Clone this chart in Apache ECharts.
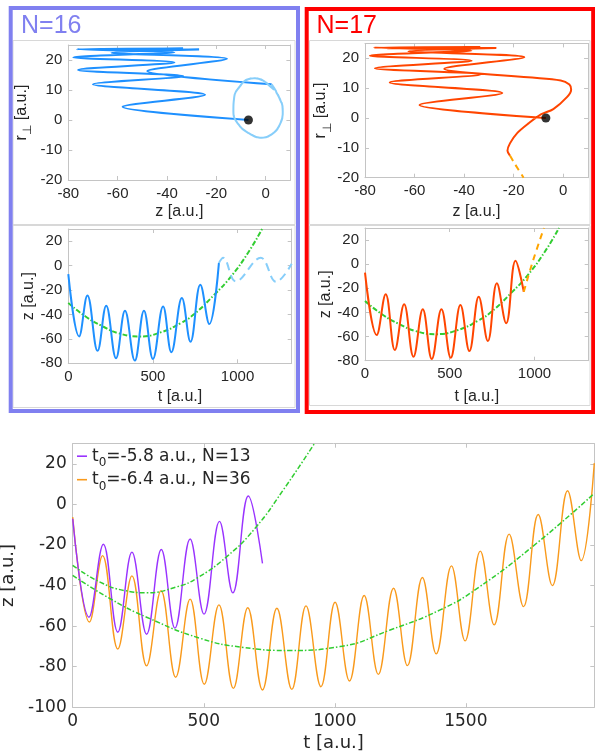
<!DOCTYPE html>
<html><head><meta charset="utf-8">
<script src="https://cdn.jsdelivr.net/npm/echarts@6/dist/echarts.min.js"></script>
<style>html,body{margin:0;padding:0;background:#fff}#c{width:595px;height:752px}</style>
</head><body><div id="c"></div>
<script>
// ---------------- DATA ----------------
// N=16 panel: trajectory r_perp vs z (solid) and loop (dashed)
const n16TrajZ = [-7, -58, -24.6, -70, -33.4, -76, -37, -78, -37, -76.5, -33.5, -71, -27, -62.5, -15.7, -48, 2.4];
const n16TrajR = [0, 4.4, 8.4, 11.9, 14.6, 16.7, 19.2, 20.9, 22.6, 23.6, 23.8, 23.4, 23.5, 22.4, 20.4, 16.3, 11.9];
const n16LoopZ = [2.4, 5.5, 6.9, 5.8, 2.4, -1.6, -6.4, -11.1, -13.1, -12.8, -10.4, -7.1, -4.3, 1.7, 5.5, 6.9, 5.8, 2.4, -1.6, -6.4, -11.1, -13.1, -12.8, -10.4, -7.1, -4.3, 1.7];
const n16LoopR = [11.9, 7.4, 3, -1.4, -4.8, -5.9, -4.6, -1.4, 3, 7.4, 11.3, 13.6, 13.9, 11.3, 7.4, 3, -1.4, -4.8, -5.9, -4.6, -1.4, 3, 7.4, 11.3, 13.6, 13.9, 11.3];
// N=16 panel: z vs t
const n16T = [0, 64, 113, 173, 224, 282, 335, 393, 447, 500, 560, 609, 671, 722, 780, 833, 890];
const n16Z = [-7, -58, -24.4, -69.8, -32.8, -75.8, -37, -77.8, -37, -76.4, -33.4, -70.9, -26.5, -62.4, -15.6, -47.9, 2.2];
const n16DashT = [890, 915, 990, 1137, 1228, 1320];
const n16DashZ = [2.2, 6.4, -12.9, 6.4, -13.2, 1.5];
// guiding-centre curve (top panels)
const topGuideT = [0, 100, 200, 300, 420, 550, 665, 744, 863, 962, 1062, 1145];
const topGuideZ = [-30.5, -41.5, -49.5, -55.5, -58, -54.5, -47, -39.7, -23.8, -8.8, 10.5, 30];
// N=17 panel: trajectory
const n17TrajZ = [-7, -58, -24.6, -70, -33.4, -76, -37, -78, -37, -76.5, -33.5, -71, -27, -62.5, -15.7, -48, -1, 2.5, 3.2, 1.5, -4, -9, -14, -18.5, -21.5, -22.5, -21.5];
const n17TrajR = [0, 4.4, 8.4, 11.9, 14.6, 16.7, 19.2, 20.9, 22.6, 23.6, 23.8, 23.4, 23.5, 22.4, 20.4, 16.5, 12.6, 11.2, 9.5, 7, 3, 1.2, -1.8, -5, -8.5, -11, -12.6];
const n17TailZ = [-21.5, -19.8, -16];
const n17TailR = [-12.6, -15, -20];
// N=17 panel: z vs t
const n17T = [0, 69, 122, 176, 231, 286, 341, 394, 451, 506, 563, 616, 671, 725, 778, 833, 888, 937];
const n17Z = [-7, -58.7, -25, -71.1, -33.3, -76.7, -37.4, -78.6, -37.4, -77.5, -33.9, -72, -27, -63.7, -15.9, -49, 2.9, -22.8];
const n17DashT = [937, 990, 1056];
const n17DashZ = [-22.8, 2.3, 30];
// bottom panel
const legendT0 = ['-5.8', '-6.4'];
const legendN = [13, 36];
const purpleT = [0, 62, 117, 172, 226, 282, 338, 390, 448, 501, 560, 611, 670, 724];
const purpleZ = [-7, -55.6, -19.6, -63, -23.5, -64, -22.2, -61, -17, -54.1, -8.3, -43.6, 4.2, -29];
const orangeT = [0, 64, 114, 172, 226, 282, 337, 393, 448, 502, 558, 613, 668, 724, 779, 836, 890, 947, 1001, 1056, 1112, 1166, 1224, 1277, 1334, 1387, 1445, 1497, 1555, 1608, 1665, 1720, 1776, 1830, 1888, 1940, 1990];
const orangeZ = [-6.2, -58, -25.2, -71.3, -35.2, -79.6, -42.5, -85.2, -46.7, -88.7, -49.5, -90.7, -50.9, -91.5, -51.2, -91.2, -50, -89.9, -48.2, -87.1, -44.9, -83.8, -41.3, -79.5, -36, -73.7, -30.3, -67.3, -23, -59.4, -14.6, -50.4, -4.9, -40, 6.8, -27.7, 20.4];
const guide1T = [0, 100, 200, 282, 400, 473, 588, 696, 804, 925];
const guide1Z = [-30, -38, -42.5, -43.5, -40.5, -36.4, -25.7, -11.7, 7.3, 30.6];
const guide2T = [0, 150, 282, 486, 650, 830, 1020, 1211, 1402, 1542, 1771, 1990];
const guide2Z = [-35, -47, -55.6, -66, -70.5, -72, -70.1, -61.9, -52, -41.5, -19, 5.5];
const startZ = [-7], startR = [0];

// ---------------- CHART ----------------
const zip = (a, b) => a.map((v, i) => [v, b[i]]);
const TF = 'Liberation Sans', BF = 'DejaVu Sans';
const TXT = '#262626', AX = '#c4c4c4';
const BLUE = '#1e90ff', LBLUE = '#87cefa', GREEN = '#32cd32', RED = '#ff4500', ORANGE = '#ffa500', PURPLE = '#9933ff', ORANGE2 = '#f99a1c';
const names = legendT0.map((t, i) => 't0=' + t + ' a.u., N=' + legendN[i]);

const gbase = {containLabel: false, outerBoundsMode: 'none'};
const grids = [
  Object.assign({left: 68.3, top: 45, width: 222.1, height: 135}, gbase),
  Object.assign({left: 68.3, top: 229, width: 223.4, height: 134.3}, gbase),
  Object.assign({left: 365, top: 43.4, width: 223, height: 134.3}, gbase),
  Object.assign({left: 365, top: 228, width: 223.7, height: 132.7}, gbase),
  Object.assign({left: 72.7, top: 443.7, width: 521.6, height: 263.5}, gbase)
];
const rName = '{r|r}{s|⊥}{n| [a.u.]}';
const rRich = {r: {fontSize: 16, lineHeight: 26, fontFamily: TF, color: TXT}, s: {fontSize: 12, lineHeight: 10, verticalAlign: 'bottom', fontFamily: BF, color: TXT}, n: {fontSize: 16, lineHeight: 26, fontFamily: TF, color: TXT}};
const axdef = [
  [-80, 10, 20, 'z [a.u.]', 23.5, -20, 25, 10, rName, 34, TF, 15, 16],
  [0, 1320, 500, 't [a.u.]', 25.5, -80, 30, 20, 'z [a.u.]', 32, TF, 15, 16],
  [-80, 10, 20, 'z [a.u.]', 26, -20, 25, 10, rName, 31, TF, 15, 16],
  [0, 1320, 500, 't [a.u.]', 28, -80, 30, 20, 'z [a.u.]', 31, TF, 15, 16],
  [0, 1990, 500, 't [a.u.]', 27, -100, 30, 20, 'z [a.u.]', 46, BF, 17, 18]
];
const xAxes = [], yAxes = [];
const lineS = {show: true, onZero: false, lineStyle: {color: AX, width: 1}};
const tickS = {show: true, inside: true, length: 4, lineStyle: {color: AX}};
const fmt = v => String(v);
axdef.forEach((d, g) => {
  const [x0, x1, xi, xn, xg, y0, y1, yi, yn, yg, f, fs, nfs] = d;
  xAxes.push({type: 'value', gridIndex: g, min: x0, max: x1, interval: xi, position: 'bottom',
    name: xn, nameLocation: 'middle', nameGap: xg, nameTextStyle: {fontFamily: f, fontSize: nfs, color: TXT},
    axisLine: lineS, axisTick: tickS, splitLine: {show: false},
    axisLabel: {fontFamily: f, fontSize: fs, color: TXT, margin: 6, showMaxLabel: false, showMinLabel: true, formatter: fmt}});
  xAxes.push({type: 'value', gridIndex: g, min: x0, max: x1, interval: xi, position: 'top',
    axisLine: lineS, axisTick: tickS, splitLine: {show: false}, axisLabel: {show: false}});
  yAxes.push({type: 'value', gridIndex: g, min: y0, max: y1, interval: yi, position: 'left',
    name: yn, nameLocation: 'middle', nameGap: yg,
    nameTextStyle: {fontFamily: f, fontSize: nfs, color: TXT, rich: rRich},
    axisLine: lineS, axisTick: tickS, splitLine: {show: false},
    axisLabel: {fontFamily: f, fontSize: fs, color: TXT, margin: 6, showMaxLabel: false, showMinLabel: true, formatter: fmt}});
  yAxes.push({type: 'value', gridIndex: g, min: y0, max: y1, interval: yi, position: 'right',
    axisLine: lineS, axisTick: tickS, splitLine: {show: false}, axisLabel: {show: false}});
});

function line(g, xs, ys, color, width, type, smooth, name) {
  return {type: 'line', name: name, xAxisIndex: 2 * g, yAxisIndex: 2 * g, data: zip(xs, ys),
    symbol: 'none', showSymbol: false, smooth: smooth, clip: true, animation: false,
    lineStyle: {color: color, width: width, type: type}, itemStyle: {color: color}};
}
const DD = [5, 2, 1.5, 2];
const series = [
  line(0, n16TrajZ, n16TrajR, BLUE, 2, 'solid', 0.3),
  line(0, n16LoopZ, n16LoopR, LBLUE, 2, [9, 3], 0.5),
  {type: 'scatter', xAxisIndex: 0, yAxisIndex: 0, data: zip(startZ, startR), symbolSize: 9, itemStyle: {color: '#000'}, animation: false, z: 5},
  line(1, topGuideT, topGuideZ, GREEN, 2, DD, 0.5),
  line(1, n16T, n16Z, BLUE, 2, 'solid', 0.4),
  line(1, n16DashT, n16DashZ, LBLUE, 2, [8, 5], 0.4),
  line(2, n17TrajZ, n17TrajR, RED, 2, 'solid', 0.3),
  line(2, n17TailZ, n17TailR, ORANGE, 2, [6, 5], 0.3),
  {type: 'scatter', xAxisIndex: 4, yAxisIndex: 4, data: zip(startZ, startR), symbolSize: 9, itemStyle: {color: '#000'}, animation: false, z: 5},
  line(3, topGuideT, topGuideZ, GREEN, 2, DD, 0.5),
  line(3, n17T, n17Z, RED, 2, 'solid', 0.4),
  line(3, n17DashT, n17DashZ, ORANGE, 2, [6, 5], 0.4),
  line(4, orangeT, orangeZ, ORANGE2, 1.4, 'solid', 0.4, names[1]),
  line(4, purpleT, purpleZ, PURPLE, 1.4, 'solid', 0.4, names[0]),
  line(4, guide1T, guide1Z, GREEN, 1.5, DD, 0.5),
  line(4, guide2T, guide2Z, GREEN, 1.5, DD, 0.5)
];

const chart = echarts.init(document.getElementById('c'), null, {renderer: 'canvas'});
chart.setOption({
  animation: false,
  backgroundColor: '#fff',
  grid: grids,
  xAxis: xAxes,
  yAxis: yAxes,
  series: series,
  legend: {
    data: [names[0], names[1]], orient: 'vertical', left: 77, top: 447.7, padding: 0, itemGap: 2,
    itemWidth: 10, itemHeight: 1.6, icon: 'rect',
    formatter: function (n) {
      const i = names.indexOf(n);
      return '{a|t}{b|0}{a|=' + legendT0[i] + ' a.u., N=' + legendN[i] + '}';
    },
    textStyle: {fontFamily: BF, fontSize: 17, color: TXT,
      rich: {a: {fontFamily: BF, fontSize: 17, lineHeight: 26, color: TXT}, b: {fontFamily: BF, fontSize: 12, lineHeight: 10, verticalAlign: 'bottom', color: TXT}}}
  },
  graphic: [
    {type: 'rect', shape: {x: 13, y: 40.5, width: 282, height: 184}, style: {fill: 'none', stroke: '#d8d8d8', lineWidth: 1}, z: 1},
    {type: 'rect', shape: {x: 13, y: 225.5, width: 282, height: 182}, style: {fill: 'none', stroke: '#d8d8d8', lineWidth: 1}, z: 1},
    {type: 'rect', shape: {x: 309.5, y: 40.5, width: 280.5, height: 184}, style: {fill: 'none', stroke: '#d8d8d8', lineWidth: 1}, z: 1},
    {type: 'rect', shape: {x: 309.5, y: 225.5, width: 280.5, height: 180}, style: {fill: 'none', stroke: '#d8d8d8', lineWidth: 1}, z: 1},
    {type: 'rect', shape: {x: 10.7, y: 8, width: 287.3, height: 403}, style: {fill: 'none', stroke: '#8080f0', lineWidth: 4}, z: 100},
    {type: 'rect', shape: {x: 306.7, y: 9, width: 286.5, height: 403}, style: {fill: 'none', stroke: '#ff0000', lineWidth: 4}, z: 100},
    {type: 'text', style: {x: 21, y: 13.5, text: 'N=16', fontSize: 25, fontFamily: TF, fill: '#8080f0'}, z: 100},
    {type: 'text', style: {x: 316.5, y: 14, text: 'N=17', fontSize: 25, fontFamily: TF, fill: '#ff0000'}, z: 100}
  ]
});
</script></body></html>
